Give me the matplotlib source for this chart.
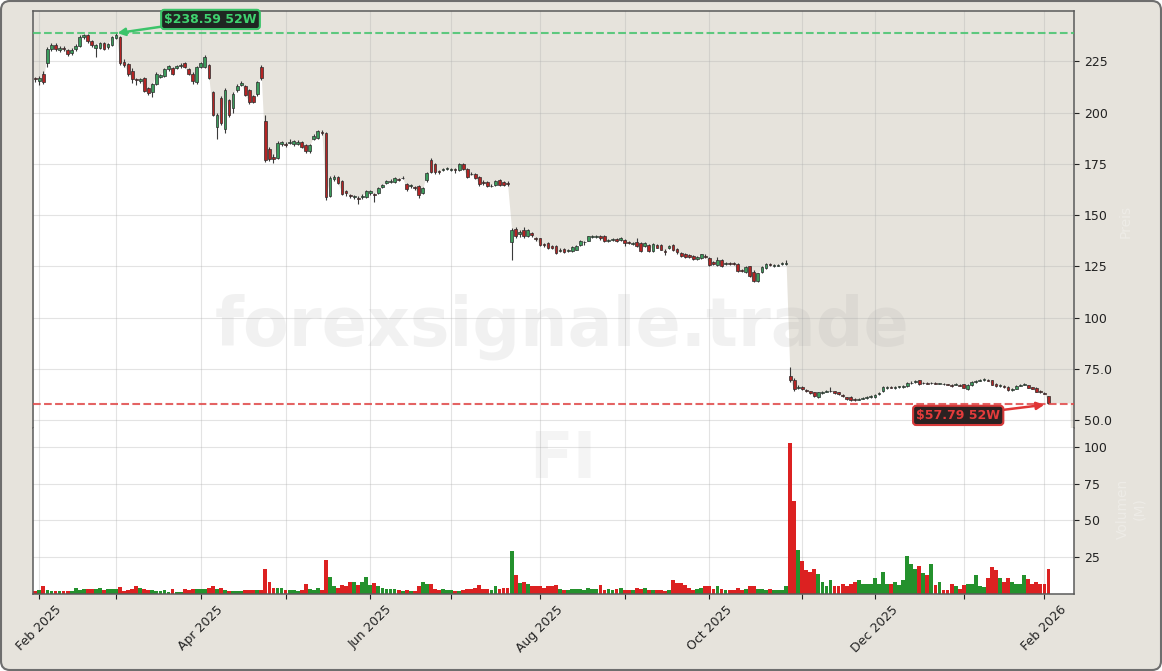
import numpy as np
import pandas as pd
import matplotlib
matplotlib.use("Agg")
import matplotlib.pyplot as plt
from matplotlib.patches import FancyBboxPatch
from matplotlib.transforms import IdentityTransform
from matplotlib.ticker import FuncFormatter

# ---------------- data ----------------
ticker = "FI"
watermark = "forexsignale.trade"
first_session = "2025-01-31"
last_session = "2026-02-03"
market_closed = ["2025-02-17", "2025-04-18", "2025-05-26", "2025-06-19", "2025-07-04",
                 "2025-09-01", "2025-11-27", "2025-11-28", "2025-12-25", "2026-01-01",
                 "2026-01-19"]

opens = [
    216.8, 215.5, 219.0, 224.0, 231.0, 233.0, 230.5, 231.5, 230.5, 229.0,
    231.0, 232.5, 237.0, 238.0, 235.0, 231.5, 231.5, 234.0, 232.0, 233.0,
    236.5, 237.0, 224.5, 223.5, 220.0, 216.5, 215.5, 217.0, 212.0, 210.0,
    214.0, 217.5, 218.0, 221.0, 221.5, 221.5, 222.5, 224.0, 221.0, 219.0,
    215.0, 222.0, 222.0, 223.0, 210.0, 193.0, 207.0, 192.0, 206.0, 202.0,
    211.0, 213.5, 213.0, 211.0, 208.0, 209.0, 222.0, 196.0, 182.0, 178.5,
    178.0, 184.5, 184.5, 185.0, 184.5, 184.5, 185.5, 184.0, 181.0, 187.0,
    187.5, 190.5, 190.0, 159.5, 167.5, 168.5, 166.5, 161.5, 159.8, 159.0,
    158.5, 159.0, 159.0, 161.0, 160.5, 161.0, 163.5, 165.5, 166.0, 166.0,
    167.5,
    168.0, 165.0, 164.0, 163.5, 164.0, 161.0, 167.0, 177.0, 175.0, 171.5,
    172.0, 172.3, 172.0, 172.5, 172.0, 175.0, 172.5, 170.2, 170.0, 168.5,
    166.2, 166.0, 164.0, 164.5, 167.0, 166.0, 165.5, 136.7, 143.0, 140.8,
    142.6, 139.8, 141.5, 138.8, 138.8, 135.8, 136.4, 134.8, 135.0, 132.4,
    133.5, 132.4, 132.3, 133.2, 135.6, 136.8, 137.6, 139.2, 139.4, 139.6,
    139.9, 137.2, 137.8, 138.4, 138.0, 137.8, 136.8, 135.9, 136.8, 136.4,
    135.0, 135.5, 132.3, 135.2, 135.5, 132.4, 133.8, 135.5, 133.3, 131.3,
    131.2, 130.5, 130.1, 128.7, 129.3, 130.2, 129.1, 126.9, 125.8, 127.9,
    126.1, 126.8, 126.6, 126.3, 123.2, 122.5, 125.0, 122.5, 117.8, 122.5,
    124.2, 126.3, 125.0, 125.4, 126.2, 126.3,
    71.6, 69.5, 65.6, 66.0, 64.9, 64.1, 63.7, 61.2, 63.5, 64.0,
    64.2, 64.1, 63.7, 62.2, 61.1, 61.5, 60.4, 60.1, 60.6, 61.0,
    61.4, 61.5, 62.6, 64.2, 65.8, 66.3, 65.8, 66.0, 66.2, 66.5,
    68.0, 68.8, 69.4, 68.1, 68.3, 68.1, 68.3, 67.9, 67.9, 67.5,
    67.2, 67.4, 67.4, 67.6, 65.4, 67.2, 68.8, 69.3, 69.6, 69.8,
    69.5, 67.9, 66.7, 66.7, 66.2, 64.6, 65.4, 66.9, 67.4, 67.1,
    66.0, 65.9, 64.3, 63.4, 61.6,
]
highs = [
    217.5, 218.0, 220.0, 232.0, 234.0, 234.0, 232.5, 232.5, 231.0, 231.5,
    233.5, 238.0, 238.2, 238.2, 235.5, 233.5, 234.5, 234.5, 234.0, 237.5,
    238.59, 237.5, 226.0, 224.0, 221.5, 217.0, 217.0, 217.5, 212.5, 214.5,
    219.5, 219.0, 221.5, 223.0, 222.0, 223.0, 224.0, 224.5, 221.5, 219.5,
    222.5, 224.5, 228.0, 223.5, 210.5, 200.0, 208.0, 212.0, 206.5, 210.0,
    214.0, 215.5, 213.5, 211.5, 208.5, 215.5, 223.0, 199.0, 183.0, 180.0,
    186.0, 186.0, 185.5, 187.0, 186.5, 186.5, 186.0, 184.5, 184.5, 189.5,
    191.5, 191.5, 190.5, 169.0, 169.5, 169.0, 167.0, 162.0, 160.5, 160.0,
    159.5, 160.5, 162.0, 162.0, 161.0, 163.5, 165.0, 167.0, 167.5, 168.5,
    168.0,
    169.0, 165.5, 165.0, 164.0, 164.5, 163.5, 171.0, 178.0, 175.5, 172.0,
    173.0, 173.5, 173.0, 173.0, 175.5, 175.5, 173.0, 171.0, 170.5, 169.0,
    167.0, 166.5, 165.0, 167.0, 167.5, 166.5, 166.5, 143.5, 144.0, 142.5,
    144.0, 143.0, 142.0, 139.5, 139.0, 136.5, 136.8, 135.5, 135.5, 133.8,
    134.0, 133.5, 135.0, 135.5, 137.8, 137.6, 140.0, 140.5, 140.2, 140.5,
    140.2, 138.5, 138.8, 138.8, 139.2, 138.2, 137.2, 137.0, 138.8, 136.8,
    136.7, 136.0, 136.3, 135.8, 135.9, 133.5, 135.4, 135.9, 133.8, 131.8,
    131.6, 131.0, 130.5, 130.2, 131.2, 130.8, 129.5, 127.4, 129.8, 128.4,
    127.2, 127.3, 127.0, 126.8, 123.8, 125.3, 125.4, 123.0, 122.0, 125.4,
    126.8, 126.8, 126.3, 126.2, 127.3, 128.3,
    76.1, 70.5, 67.0, 66.5, 65.3, 64.5, 64.0, 64.0, 64.3, 64.8,
    66.3, 64.4, 64.0, 62.6, 61.5, 61.8, 60.8, 61.0, 61.4, 61.8,
    62.2, 62.8, 63.8, 66.8, 66.7, 66.8, 66.6, 66.9, 67.0, 68.5,
    69.0, 69.7, 69.8, 68.8, 68.8, 68.8, 68.7, 68.4, 68.3, 67.9,
    67.6, 68.0, 67.8, 67.9, 67.8, 68.9, 69.6, 70.2, 70.6, 70.2,
    69.8, 68.2, 67.7, 67.0, 66.5, 65.5, 67.2, 67.8, 68.2, 67.4,
    66.3, 66.2, 64.7, 63.8, 62.0,
]
lows = [
    215.0, 213.5, 214.0, 222.0, 230.0, 230.0, 229.5, 230.0, 227.5, 228.0,
    230.0, 232.0, 236.0, 234.0, 232.0, 227.0, 231.0, 230.5, 231.0, 232.5,
    236.0, 223.0, 222.0, 218.0, 214.5, 213.5, 214.5, 210.0, 208.5, 207.5,
    213.5, 217.0, 217.5, 220.0, 218.5, 221.0, 221.5, 221.5, 218.5, 214.0,
    214.0, 221.5, 221.5, 216.5, 198.5, 187.0, 194.0, 190.0, 198.0, 200.0,
    210.0, 213.0, 208.0, 204.0, 204.5, 208.0, 216.0, 176.0, 176.5, 175.5,
    177.5, 183.5, 183.0, 184.5, 183.5, 184.0, 182.5, 180.5, 180.5, 186.5,
    187.0, 189.0, 157.5, 159.0, 166.5, 165.0, 160.0, 159.5, 158.5, 158.0,
    155.5, 158.0, 158.5, 160.0, 156.5, 160.5, 163.0, 165.0, 165.5, 165.5,
    166.5,
    167.5, 161.5, 163.0, 162.0, 158.5, 160.5, 166.0, 170.5, 170.0, 170.0,
    171.5, 171.8, 171.5, 170.5, 171.5, 172.0, 168.0, 169.5, 167.5, 164.0,
    164.5, 163.5, 163.5, 164.0, 164.0, 164.0, 164.0, 128.2, 139.0, 139.5,
    139.0, 139.3, 139.5, 137.5, 135.0, 134.5, 133.5, 133.5, 131.0, 131.8,
    131.5, 132.0, 132.0, 132.8, 135.0, 135.5, 137.2, 138.8, 138.8, 138.0,
    136.8, 136.8, 137.3, 137.0, 137.6, 134.7, 135.8, 135.4, 134.5, 131.8,
    134.5, 131.8, 131.8, 133.8, 132.8, 130.5, 133.3, 132.6, 131.2, 129.6,
    129.2, 129.2, 128.2, 128.2, 128.8, 129.2, 125.3, 125.6, 125.3, 124.5,
    125.6, 125.8, 125.5, 122.2, 122.1, 122.0, 119.6, 117.4, 117.4, 122.0,
    123.8, 125.1, 124.6, 125.0, 125.9, 125.9,
    68.8, 64.5, 65.0, 64.8, 63.8, 62.8, 61.2, 60.8, 63.0, 63.6,
    63.8, 62.9, 62.4, 61.2, 60.1, 59.5, 59.6, 59.8, 60.3, 60.6,
    61.0, 60.8, 62.2, 63.8, 65.3, 65.5, 65.4, 65.6, 65.8, 66.1,
    67.6, 68.4, 67.2, 67.7, 67.5, 67.8, 67.5, 67.5, 67.3, 67.0,
    66.4, 67.1, 66.5, 65.6, 64.8, 66.9, 68.4, 69.0, 69.2, 68.9,
    67.0, 66.3, 66.4, 65.9, 64.5, 64.3, 65.1, 66.6, 67.1, 65.5,
    65.0, 63.6, 63.2, 62.6, 57.79,
]
closes = [
    216.2, 217.0, 215.0, 231.0, 233.0, 231.0, 231.5, 231.0, 228.5, 230.5,
    232.5, 237.0, 237.8, 235.0, 233.0, 233.0, 234.0, 231.0, 233.5, 237.0,
    238.0, 224.0, 223.0, 219.0, 216.5, 216.0, 216.5, 210.5, 209.5, 214.0,
    219.0, 218.5, 221.0, 222.5, 219.0, 222.5, 223.0, 222.0, 219.0, 215.5,
    222.0, 224.0, 227.0, 217.0, 199.0, 199.0, 195.0, 211.0, 199.0, 209.0,
    213.0, 214.5, 208.5, 205.0, 205.0, 215.0, 217.0, 177.0, 177.5, 177.5,
    185.0, 185.5, 184.0, 185.8, 186.0, 185.5, 183.0, 181.0, 184.0, 188.5,
    191.0, 190.0, 159.0, 168.0, 168.5, 165.5, 160.5, 161.0, 159.2, 159.5,
    158.0, 159.5, 161.5, 161.5, 160.0, 163.0, 164.5, 166.5, 166.5, 168.0,
    167.0,
    168.3, 162.5, 164.5, 163.0, 160.0, 163.0, 170.5, 171.0, 171.0, 171.0,
    172.5, 172.8, 172.3, 172.0, 175.0, 172.5, 168.5, 169.8, 168.0, 165.0,
    165.8, 164.0, 164.3, 166.8, 164.5, 164.5, 165.0, 142.9, 139.8, 141.6,
    139.6, 142.6, 140.2, 138.2, 135.6, 135.2, 134.0, 134.2, 131.5, 133.0,
    132.0, 133.0, 134.5, 135.0, 137.2, 137.0, 139.6, 139.9, 139.8, 138.6,
    137.2, 138.0, 138.3, 137.4, 138.6, 136.5, 136.2, 136.6, 134.9, 132.4,
    136.2, 132.3, 135.8, 134.2, 133.2, 132.0, 135.0, 133.0, 131.8, 130.2,
    129.6, 129.7, 128.6, 129.5, 130.8, 129.6, 125.8, 126.3, 128.2, 125.0,
    126.7, 126.3, 126.1, 122.6, 122.6, 124.9, 120.1, 117.8, 121.6, 124.9,
    126.4, 125.6, 125.8, 125.7, 126.8, 126.6,
    69.6, 65.0, 66.4, 65.2, 64.3, 63.3, 61.6, 63.7, 63.9, 64.3,
    64.5, 63.2, 62.7, 61.6, 60.4, 59.9, 60.0, 60.6, 61.0, 61.3,
    61.8, 62.3, 63.3, 66.4, 66.2, 65.9, 66.2, 66.5, 66.6, 68.1,
    68.4, 69.2, 67.6, 68.4, 67.9, 68.4, 67.9, 68.1, 67.6, 67.3,
    66.8, 67.7, 66.9, 65.9, 67.4, 68.6, 69.3, 69.8, 70.0, 69.2,
    67.4, 66.6, 67.3, 66.2, 64.8, 65.2, 66.9, 67.4, 67.8, 65.8,
    65.3, 63.9, 63.6, 63.0, 58.5,
]
volumes_m = [
    1.6, 2.7, 5.0, 2.3, 2.0, 2.0, 2.0, 2.0, 1.4, 1.4,
    4.0, 2.7, 3.2, 3.4, 3.2, 3.4, 4.1, 2.3, 3.0, 3.4,
    3.4, 4.2, 1.6, 2.3, 3.4, 5.0, 4.1, 3.0, 2.3, 2.7,
    1.4, 1.4, 2.7, 1.1, 3.0, 0.9, 1.1, 3.4, 2.7, 3.4,
    3.0, 3.4, 3.0, 4.1, 5.0, 3.4, 4.1, 2.7, 1.8, 1.4,
    1.4, 1.4, 2.7, 2.3, 2.3, 2.7, 2.7, 16.6, 7.7, 4.1,
    4.1, 4.1, 2.7, 2.7, 2.7, 1.4, 2.7, 6.4, 3.4, 2.3,
    4.1, 2.7, 22.7, 11.0, 5.0, 4.1, 5.7, 5.2, 7.7, 7.7,
    5.7, 7.7, 11.0, 5.7, 7.0, 5.0, 4.1, 3.4, 3.4, 3.4,
    2.7,
    1.8, 2.7, 2.0, 2.0, 5.0, 7.7, 6.4, 6.4, 3.4, 2.3,
    3.4, 2.7, 2.7, 2.0, 1.4, 2.3, 3.4, 3.0, 4.1, 5.7,
    3.4, 3.4, 2.7, 5.0, 3.4, 4.1, 4.1, 28.9, 12.5, 7.0,
    7.7, 6.4, 5.0, 5.0, 5.0, 4.1, 5.0, 5.0, 5.7, 3.4,
    2.7, 2.3, 3.4, 3.4, 3.4, 2.7, 4.1, 3.0, 3.0, 5.7,
    2.3, 3.4, 2.7, 3.4, 4.1, 2.7, 2.7, 2.7, 4.1, 3.4,
    4.1, 2.7, 2.3, 2.3, 2.7, 2.0, 2.7, 9.5, 7.0, 7.0,
    5.7, 4.1, 2.7, 3.4, 4.1, 4.8, 5.0, 3.4, 5.0, 3.4,
    2.7, 2.7, 2.7, 4.1, 2.7, 3.4, 4.8, 5.0, 3.4, 3.4,
    2.3, 3.4, 2.3, 2.3, 2.7, 5.0,
    103.0, 63.6, 29.5, 22.0, 16.0, 15.0, 17.0, 13.6, 7.7, 5.0,
    9.0, 5.0, 5.0, 6.8, 5.0, 6.4, 7.7, 9.5, 6.4, 6.8,
    6.4, 10.5, 6.4, 14.5, 6.8, 6.4, 7.7, 5.7, 9.5, 25.5,
    20.0, 17.0, 18.6, 14.0, 12.7, 20.0, 5.7, 8.0, 2.7, 2.7,
    6.4, 5.0, 3.4, 5.7, 6.4, 6.4, 12.5, 5.0, 4.3, 10.5,
    18.0, 16.0, 10.5, 7.7, 10.5, 7.7, 6.8, 6.4, 13.0, 9.8,
    6.8, 7.7, 6.4, 6.4, 16.6,
]

# ---------------- prep ----------------
o = np.array(opens); h = np.array(highs); l = np.array(lows); c = np.array(closes)
v = np.array(volumes_m)
n = len(c)
dates = pd.bdate_range(first_session, last_session, freq="C", holidays=market_closed)[:n]
x = np.arange(n)
up = c >= o

hi_i = int(np.argmax(h)); lo_i = int(np.argmin(l))
hi_v = h[hi_i]; lo_v = l[lo_i]

BG = "#e6e3dc"
W, H = 1162, 671
fig = plt.figure(figsize=(W / 100, H / 100), dpi=100, facecolor="white")
frame = FancyBboxPatch((1, 1), W - 2, H - 2, boxstyle="round,pad=0,rounding_size=9",
                       transform=IdentityTransform(), fc=BG, ec="#6e6e6e", lw=1.5, zorder=-10)
fig.add_artist(frame)

left = 33.3 / W
width = (1074.3 - 33.3) / W
ax = fig.add_axes([left, 1 - 428 / H, width, (428 - 11.3) / H])
axv = fig.add_axes([left, 1 - 593.5 / H, width, (593.5 - 428) / H], sharex=ax)

ax.set_facecolor(BG)
axv.set_facecolor("white")

ylo, yhi = lo_v * 0.8, hi_v * 1.045
ax.set_ylim(ylo, yhi)
ax.set_xlim(-0.5, n - 1 + 6.4)

# white area under price
xf = np.concatenate([[-0.5], x, [n - 1 + 5.4]])
yf = np.concatenate([[c[0]], c, [c[-1]]])
ax.fill_between(xf, yf, ylo, color="white", lw=0, zorder=0.3)

# candles
ax.vlines(x, l, h, colors="#3a3a3a", lw=0.8, zorder=3)
body = np.maximum(np.abs(c - o), 0.3)
ax.bar(x, body, bottom=np.minimum(o, c), width=0.68,
       color=np.where(up, "#3b9c5c", "#b32424"), edgecolor="#2c2c2c", lw=0.5, zorder=4)

# 52W lines
ax.axhline(hi_v, color="#45c46e", ls="--", lw=1.5, alpha=0.85, zorder=5)
ax.axhline(lo_v, color="#e04848", ls="--", lw=1.5, alpha=0.85, zorder=5)

ax.annotate("\\$%.2f 52W" % hi_v, xy=(hi_i, hi_v), xytext=(68, 10), textcoords="offset points",
            ha="center", va="center", fontsize=9, fontweight="bold", color="#3fd26f",
            bbox=dict(boxstyle="round,pad=0.25", fc="#1f2622", ec="#3cc46a", lw=1.5),
            arrowprops=dict(arrowstyle="-|>", color="#3cc46a", lw=1.8, mutation_scale=11,
                            shrinkA=0, shrinkB=1), zorder=7)
ax.annotate("\\$%.2f 52W" % lo_v, xy=(lo_i, lo_v), xytext=(-65, -8), textcoords="offset points",
            ha="center", va="center", fontsize=9, fontweight="bold", color="#e33b3b",
            bbox=dict(boxstyle="round,pad=0.25", fc="#2b2222", ec="#d63a3a", lw=1.5),
            arrowprops=dict(arrowstyle="-|>", color="#e03535", lw=1.8, mutation_scale=11,
                            shrinkA=0, shrinkB=3), zorder=7)

# volume
axv.bar(x, v, width=0.95, color=np.where(up, "#24912d", "#dc2121"), lw=0, zorder=2)
axv.set_ylim(0, v.max() * 1.1)
axv.set_yticks([25, 50, 75, 100])

# month ticks
month_idx = [i for i in range(1, n) if dates[i].month != dates[i - 1].month]
month_lbl = [dates[i].strftime("%b %Y") if dates[i].month % 2 == 0 else "" for i in month_idx]
axv.set_xticks(month_idx)
axv.set_xticklabels(month_lbl)

for a in (ax, axv):
    a.set_axisbelow(True)
    a.grid(True, color="#b0b0b0", alpha=0.35, lw=0.8)
    a.yaxis.tick_right()
    a.tick_params(axis="y", labelsize=9, colors="#222222", length=3.5)
    for s in a.spines.values():
        s.set_color("#5a5a5a"); s.set_linewidth(1.1)
ax.spines["bottom"].set_visible(False)
axv.spines["top"].set_visible(False)
ax.tick_params(axis="x", length=0, labelbottom=False)
axv.tick_params(axis="x", labelsize=9, colors="#222222", length=3.5, rotation=45)
ax.yaxis.set_major_formatter(FuncFormatter(lambda val, p: f"{val:.1f}" if val < 100 else f"{val:.0f}"))

# faint axis labels
fig.text(1126 / W, 1 - 221 / H, "Preis", rotation=90, ha="center", va="center",
         fontsize=10, color="white", alpha=0.3)
fig.text(1131 / W, 1 - 509 / H, "Volumen\n(M)", rotation=90, ha="center", va="center",
         fontsize=10, color="white", alpha=0.3, multialignment="center")

# watermarks
fig.text(562 / W, 1 - 327 / H, watermark, ha="center", va="center", fontsize=48,
         fontweight="bold", color="#999999", alpha=0.13)
fig.text(563 / W, 1 - 460 / H, ticker, ha="center", va="center", fontsize=46,
         fontweight="bold", color="#999999", alpha=0.1)

fig.savefig("out.png", dpi=100, facecolor="white")
